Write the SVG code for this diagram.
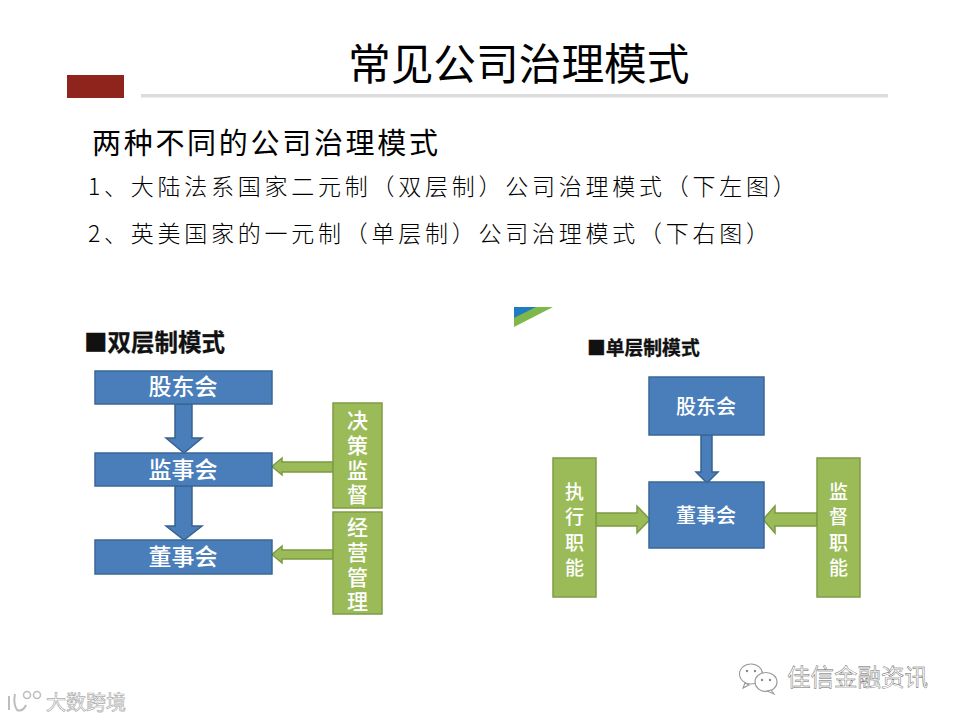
<svg xmlns="http://www.w3.org/2000/svg" width="960" height="720" viewBox="0 0 960 720">
<style>
text{font-family:"Noto Sans CJK SC","Noto Sans",sans-serif}
.t{fill:#000}
.cap{font-weight:700;fill:#111}
.b{fill:#4a7ebb;stroke:#3a6796;stroke-width:1.5}
.g{fill:#9bbb59;stroke:#7f9c45;stroke-width:1.5}
.ba{fill:#4a7ebb;stroke:#38628f;stroke-width:1.5}
.ga{fill:#9bbb59;stroke:#7c9a42;stroke-width:1.5}
.w{fill:#fff;font-weight:500;text-anchor:middle}
.wm{fill:#fff;stroke:#666;stroke-width:.45}
.ic{fill:#fff;stroke:#9a9a9a;stroke-width:1.1}
</style>
<rect width="960" height="720" fill="#fff"/>
<g id="header">
<rect x="67" y="75" width="57" height="23" fill="#8e241b"/>
<rect x="141" y="94" width="747" height="3.5" fill="#dcdcdc"/>
<text class="t" x="348" y="80" font-size="42.700" font-weight="400">常见公司治理模式</text>
<text class="t" x="92" y="154" font-size="29" font-weight="400" letter-spacing="2.700">两种不同的公司治理模式</text>
<text class="t" x="88" y="195" font-size="23" font-weight="300" letter-spacing="3.750">1、大陆法系国家二元制（双层制）公司治理模式（下左图）</text>
<text class="t" x="88" y="242" font-size="23" font-weight="300" letter-spacing="3.750">2、英美国家的一元制（单层制）公司治理模式（下右图）</text>
</g>
<g id="logo-mark">
<polygon points="514,307 553,307 514,327" fill="#7fb84a"/>
<polygon points="514,307 536,307 514,318" fill="#1f7cc0"/>
</g>
<g id="connectors">
<polygon class="ba" points="175,404 192,404 192,438 202,438 184,453 166,438 175,438"/>
<polygon class="ba" points="175,486 192,486 192,526 202,526 184,540 166,526 175,526"/>
<polygon class="ga" points="333,462 282,462 282,458 272,466.500 282,475 282,472 333,472"/>
<polygon class="ga" points="333,550 282,550 282,546 272,554.500 282,563 282,559 333,559"/>
<polygon class="ba" points="701,435 712,435 712,472 718,472 707,483 696,472 701,472"/>
<polygon class="ga" points="596,513 637,513 637,506 650,519.500 637,533 637,526 596,526"/>
<polygon class="ga" points="817,513 775,513 775,506 763,519.500 775,533 775,526 817,526"/>
</g>
<g id="left-title"><text class="cap" x="84" y="351" font-size="23.500" stroke="#111" stroke-width=".3">■双层制模式</text></g>
<g id="left-gudonghui"><rect class="b" x="95" y="371" width="177" height="33"/><text class="w" x="183" y="395" font-size="23">股东会</text></g>
<g id="left-jianshihui"><rect class="b" x="95" y="453" width="177" height="33"/><text class="w" x="183" y="478" font-size="23">监事会</text></g>
<g id="left-dongshihui"><rect class="b" x="95" y="540" width="177" height="34"/><text class="w" x="183" y="565" font-size="23">董事会</text></g>
<g id="left-juece"><rect class="g" x="333" y="403" width="49" height="105"/>
<text class="w" font-size="21"><tspan x="357.500" y="428">决</tspan><tspan x="357.500" y="453">策</tspan><tspan x="357.500" y="478">监</tspan><tspan x="357.500" y="502">督</tspan></text></g>
<g id="left-jingying"><rect class="g" x="333" y="512" width="49" height="102"/>
<text class="w" font-size="21"><tspan x="357.500" y="535">经</tspan><tspan x="357.500" y="560">营</tspan><tspan x="357.500" y="585">管</tspan><tspan x="357.500" y="609">理</tspan></text></g>
<g id="right-title"><text class="cap" x="587" y="355" font-size="18.800" stroke="#111" stroke-width=".3">■单层制模式</text></g>
<g id="right-gudonghui"><rect class="b" x="649" y="377" width="115" height="58"/><text class="w" x="706" y="414" font-size="20">股东会</text></g>
<g id="right-dongshihui"><rect class="b" x="649" y="482" width="115" height="66"/><text class="w" x="706" y="523" font-size="20">董事会</text></g>
<g id="right-zhixing"><rect class="g" x="553" y="458" width="43" height="139"/>
<text class="w" font-size="19"><tspan x="574.500" y="499">执</tspan><tspan x="574.500" y="524">行</tspan><tspan x="574.500" y="550">职</tspan><tspan x="574.500" y="575">能</tspan></text></g>
<g id="right-jiandu"><rect class="g" x="817" y="458" width="43" height="139"/>
<text class="w" font-size="19"><tspan x="838.500" y="499">监</tspan><tspan x="838.500" y="524">督</tspan><tspan x="838.500" y="550">职</tspan><tspan x="838.500" y="575">能</tspan></text></g>
<g id="watermark-wechat">
<ellipse class="ic" cx="751" cy="674" rx="11.500" ry="10"/>
<path class="ic" d="M745 683 l-2 5 l6 -3z"/>
<ellipse class="ic" cx="766" cy="682" rx="11" ry="9.500"/>
<path class="ic" d="M771 690 l3 4 l-7 -3z"/>
<circle cx="747" cy="671" r="1.200" fill="#888"/><circle cx="755" cy="671" r="1.200" fill="#888"/>
<circle cx="762" cy="680" r="1.200" fill="#888"/><circle cx="770" cy="680" r="1.200" fill="#888"/>
<text class="wm" x="787" y="686" font-size="23.500">佳信金融资讯</text>
</g>
<g id="watermark-bottom">
<path d="M9 696 v14 M15 694 q-2 10 2 16 q6 2 9 -5" fill="none" stroke="#bdbdbd" stroke-width="2"/>
<circle cx="27" cy="695" r="3.500" fill="#fff" stroke="#bdbdbd" stroke-width="1.500"/>
<circle cx="37" cy="695" r="3.500" fill="#fff" stroke="#bdbdbd" stroke-width="1.500"/>
<text x="46" y="710" font-size="20" fill="#fff" stroke="#adadad" stroke-width=".7">大数跨境</text>
</g>
</svg>
